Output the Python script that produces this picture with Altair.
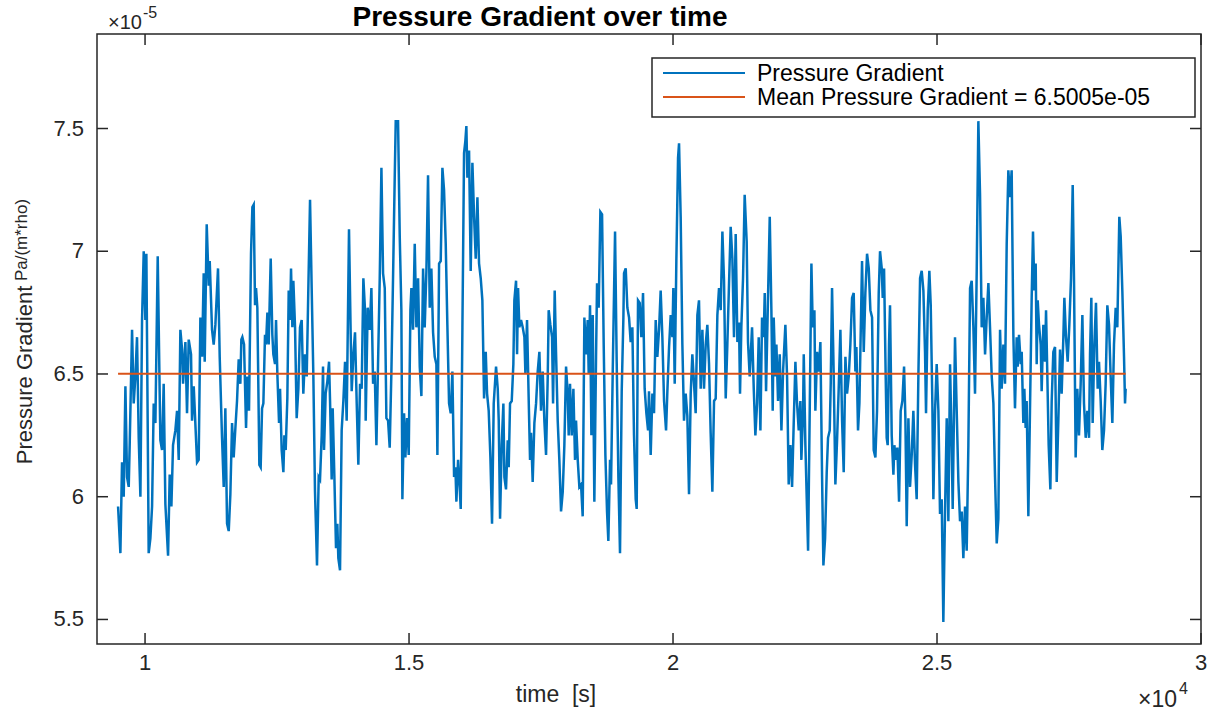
import altair as alt
import pandas as pd

# ---- data ----
# time in seconds, pressure gradient in units of 1e-5 Pa/(m*rho)
time_s = [
    9489, 9533, 9564, 9596, 9628, 9659, 9691, 9710, 9754, 9785, 9817, 9848, 9880, 9912, 9943, 9975, 10006, 10025, 10069, 10101,
    10133, 10164, 10196, 10240, 10290, 10322, 10353, 10385, 10436, 10467, 10499, 10530, 10574, 10606, 10638, 10669, 10701, 10720, 10764, 10795,
    10827, 10871, 10890, 10922, 10985, 11016, 11048, 11080, 11111, 11130, 11168, 11206, 11225, 11269, 11300, 11332, 11382, 11414, 11458, 11490,
    11521, 11553, 11585, 11616, 11648, 11679, 11711, 11742, 11774, 11805, 11824,
    11843, 11875, 11913, 11938, 11969, 12007, 12033, 12058, 12083, 12102, 12127, 12165, 12190, 12216, 12241, 12272, 12291, 12317, 12342, 12380,
    12411, 12430, 12462, 12481, 12506, 12538, 12557, 12588, 12620, 12639, 12664, 12695, 12721, 12746, 12765, 12790, 12809, 12841, 12872, 12904,
    12935, 12967, 12998, 13030, 13062, 13093, 13125, 13156, 13188, 13219, 13257, 13289, 13314, 13346, 13371, 13390, 13421, 13453, 13485, 13504,
    13535, 13554, 13586, 13617, 13642, 13661, 13693, 13724, 13756, 13788, 13819, 13863, 13895, 13914, 13946, 13977, 14009, 14040, 14072, 14103,
    14135, 14166, 14179, 14217,
    14256, 14287, 14319, 14350, 14382, 14413, 14445, 14477, 14508, 14540, 14571, 14603, 14634, 14666, 14697, 14729, 14748, 14792, 14824, 14855,
    14874, 14906, 14931, 14963, 14994, 15026, 15045, 15076, 15108, 15139, 15171, 15203, 15234, 15266, 15297, 15329, 15360, 15392, 15423, 15455,
    15487, 15518, 15537, 15569, 15600, 15632, 15663, 15695, 15726, 15758, 15790, 15821, 15853, 15878, 15897, 15929, 15960, 15979, 16011, 16042,
    16067, 16086, 16105, 16137, 16168, 16200, 16232, 16263, 16295, 16326, 16358, 16389, 16421, 16453, 16478, 16509, 16541, 16572, 16604,
    16648, 16680, 16699, 16724, 16755, 16787, 16806, 16837, 16869, 16888, 16913, 16945, 16976, 16995, 17027, 17046, 17065, 17090, 17121, 17153,
    17185, 17204, 17235, 17267, 17292, 17311, 17342, 17374, 17406, 17437, 17469, 17500, 17532, 17563, 17595, 17627, 17645, 17677, 17709, 17728,
    17759, 17784, 17816, 17847, 17879, 17911, 17942, 17974, 18005, 18024, 18049, 18081, 18113, 18144, 18163, 18195, 18226, 18258, 18289, 18321,
    18353, 18384, 18403, 18428, 18454, 18479, 18510, 18542, 18561, 18592, 18624, 18656, 18687, 18719, 18750, 18775, 18807, 18826, 18858, 18902,
    18933, 18965, 18996, 19028, 19060,
    19072, 19104, 19135, 19167, 19198, 19230, 19261, 19293, 19312, 19337, 19369, 19400, 19432, 19463, 19495, 19527, 19545, 19577, 19609, 19640,
    19672, 19703, 19735, 19766, 19798, 19830, 19868, 19893, 19925, 19956, 19988, 20006, 20032, 20063, 20095, 20114, 20145, 20177, 20208, 20240,
    20271, 20303, 20335, 20366, 20398, 20429, 20461, 20492, 20524, 20556, 20587, 20619, 20650, 20682, 20713, 20745, 20777, 20808, 20840, 20871,
    20903, 20935, 20966, 20998, 21029, 21061, 21092, 21124, 21155, 21187, 21219, 21250, 21269, 21294, 21326, 21357, 21395, 21420, 21452,
    21497, 21529, 21560, 21592, 21623, 21655, 21686, 21718, 21737, 21762, 21794, 21832, 21863, 21888, 21907, 21939, 21958, 21989, 22021, 22053,
    22084, 22128, 22160, 22191, 22223, 22255, 22286, 22318, 22349, 22381, 22412, 22431, 22463, 22476, 22507, 22558, 22589, 22621, 22646, 22678,
    22696, 22728, 22760, 22791, 22823, 22848, 22880, 22911, 22936, 22968, 22987, 23012, 23044, 23075, 23107, 23138, 23170, 23202, 23233, 23265,
    23296, 23328, 23359, 23391, 23422, 23454, 23473, 23504, 23530, 23580, 23612, 23643, 23675, 23707, 23738, 23770, 23801, 23833, 23864, 23896,
    23921, 23953, 23972, 23997, 24028, 24047, 24066, 24091, 24110, 24142, 24174, 24192, 24224, 24249, 24281, 24312, 24344, 24376, 24401, 24426,
    24458, 24489, 24521, 24552, 24584, 24615, 24647, 24679, 24710, 24742, 24773, 24792, 24824, 24855, 24881, 24912, 24931, 24963, 24994, 25026,
    25057, 25089, 25120, 25152, 25184, 25215, 25247, 25278, 25297, 25322, 25341, 25373, 25405, 25436, 25468, 25499, 25531, 25562, 25594, 25626,
    25657, 25689, 25720, 25752, 25783, 25815, 25846, 25878, 25910, 25941, 25973, 26004, 26036, 26068, 26099, 26131, 26162, 26194, 26225, 26257,
    26288, 26320, 26351, 26383, 26414, 26446, 26477, 26509, 26528, 26553, 26585, 26604, 26635, 26654, 26679, 26698, 26730, 26761, 26793, 26818,
    26844, 26869, 26888, 26907, 26932, 26964, 26982, 27014, 27046, 27065, 27090, 27115, 27147, 27172, 27203, 27235, 27267, 27298, 27330, 27361,
    27393, 27412, 27443, 27475, 27506, 27538, 27570, 27595, 27626, 27658, 27689, 27721, 27753, 27784, 27816, 27847, 27879, 27898, 27923, 27948,
    27980, 28011, 28043, 28068, 28100, 28131, 28163, 28194, 28226, 28258, 28289, 28321, 28352, 28384, 28415, 28453, 28479, 28510, 28542, 28561,
    28573,
]

gradient_e5 = [
    5.96, 5.77, 6.14, 6.00, 6.45, 6.08, 6.04, 6.22, 6.68, 6.38, 6.49, 6.65, 6.24, 6.00, 6.72, 7.00, 6.72, 6.99, 5.77, 5.83,
    5.96, 6.38, 6.30, 6.98, 6.23, 6.19, 6.46, 5.97, 5.76, 6.09, 5.96, 6.21, 6.27, 6.35, 6.15, 6.68, 6.60, 6.46, 6.63, 6.34,
    6.64, 6.58, 6.31, 6.45, 6.14, 6.15, 6.73, 6.57, 6.91, 6.55, 7.11, 6.86, 6.96, 6.68, 6.62, 6.70, 6.93, 6.57, 6.24, 6.04,
    6.36, 5.89, 5.86, 6.01, 6.30, 6.16, 6.28, 6.39, 6.56, 6.46, 6.64,
    6.65, 6.62, 6.28, 6.49, 6.35, 6.99, 7.18, 7.19, 6.78, 6.85, 6.77, 6.13, 6.12, 6.36, 6.38, 6.66, 6.62, 6.75, 6.62, 6.97,
    6.66, 6.58, 6.54, 6.72, 6.50, 6.30, 6.44, 6.19, 6.10, 6.25, 6.19, 6.40, 6.84, 6.72, 6.93, 6.69, 6.88, 6.69, 6.32, 6.44,
    6.69, 6.72, 6.42, 6.58, 6.49, 6.85, 7.21, 6.85, 6.49, 6.02, 5.72, 6.08, 6.07, 6.25, 6.53, 6.19, 6.42, 6.47, 6.55, 6.39,
    6.07, 6.36, 6.08, 5.79, 5.89, 5.75, 5.70, 6.27, 6.39, 6.55, 6.31, 7.09, 6.66, 6.43, 6.58, 6.67, 6.38, 6.13, 6.46, 6.44,
    6.89, 6.76, 6.31, 6.77,
    6.68, 6.85, 6.46, 6.51, 6.21, 6.54, 6.89, 7.34, 6.91, 6.85, 6.32, 6.31, 6.20, 6.51, 6.89, 7.30, 7.53, 7.53, 7.06, 6.76,
    5.99, 6.34, 6.16, 6.32, 6.17, 6.76, 6.85, 6.68, 7.03, 6.69, 6.89, 6.53, 6.41, 6.93, 6.69, 6.92, 7.31, 6.77, 6.93, 6.67,
    6.57, 6.54, 6.17, 6.95, 6.96, 7.34, 7.25, 7.03, 6.70, 6.38, 6.34, 6.51, 6.08, 6.12, 5.98, 6.15, 6.04, 5.95, 6.69, 7.40,
    7.45, 7.51, 7.30, 7.41, 6.92, 7.36, 7.14, 6.97, 7.22, 6.95, 6.89, 6.80, 6.40, 6.59, 6.42, 6.35, 6.16, 5.89, 6.38,
    6.53, 6.44, 6.31, 5.91, 6.21, 6.38, 6.08, 6.03, 6.23, 6.12, 6.38, 6.39, 6.54, 6.80, 6.88, 6.58, 6.85, 6.69, 6.72, 6.69,
    6.65, 6.50, 6.72, 6.39, 6.15, 6.26, 6.06, 6.30, 6.38, 6.51, 6.59, 6.35, 6.51, 6.31, 6.17, 6.49, 6.76, 6.70, 6.65, 6.38,
    6.84, 6.59, 6.31, 6.15, 5.94, 6.02, 6.21, 6.53, 6.42, 6.25, 6.46, 6.25, 6.44, 6.15, 6.31, 6.15, 6.04, 6.05, 5.92, 6.73,
    6.58, 6.72, 6.50, 6.78, 6.25, 6.74, 5.98, 6.57, 6.87, 6.77, 7.16, 7.15, 6.62, 6.17, 5.94, 5.82, 6.15, 6.05, 6.51, 7.08,
    6.55, 6.08, 5.77, 6.43, 6.73,
    6.91, 6.93, 6.77, 6.73, 6.63, 6.69, 6.25, 5.99, 5.95, 6.80, 6.79, 6.65, 6.83, 6.44, 6.34, 6.27, 6.43, 6.17, 6.42, 6.34,
    6.72, 6.57, 6.68, 6.84, 6.65, 6.39, 6.27, 6.43, 6.61, 6.74, 6.65, 6.85, 6.46, 6.96, 7.38, 7.44, 7.14, 6.62, 6.31, 6.42,
    6.33, 6.01, 6.42, 6.58, 6.46, 6.34, 6.74, 6.80, 6.44, 6.68, 6.44, 6.62, 6.70, 6.54, 6.26, 6.02, 6.39, 6.40, 6.74, 6.85,
    6.76, 7.08, 6.88, 6.40, 6.62, 6.87, 7.10, 6.97, 6.65, 7.07, 6.63, 6.71, 6.42, 6.69, 6.89, 7.23, 7.04, 6.63, 6.49,
    6.69, 6.44, 6.25, 6.38, 6.65, 6.27, 6.73, 6.65, 6.83, 6.43, 6.76, 7.14, 6.76, 6.35, 6.73, 6.49, 6.62, 6.39, 6.58, 6.27,
    6.51, 6.70, 6.49, 6.05, 6.21, 6.04, 6.30, 6.55, 6.38, 6.27, 6.39, 6.15, 6.35, 6.58, 6.21, 5.78, 6.35, 6.95, 6.69, 6.76,
    6.35, 6.59, 6.51, 6.63, 6.08, 5.72, 5.83, 6.10, 6.24, 6.27, 6.46, 6.85, 6.49, 6.05, 6.23, 6.44, 6.68, 6.31, 6.10, 6.57,
    6.42, 6.49, 6.62, 6.81, 6.83, 6.51, 6.61, 6.27, 6.38, 6.96, 6.59, 6.83, 6.99, 6.93, 6.76, 6.73, 6.19, 6.16, 6.35, 6.83,
    7.00, 6.93, 6.81, 6.93, 6.49, 6.24, 6.21, 6.62, 6.78, 6.25, 6.09, 6.21, 6.15, 6.20, 5.98, 6.35, 6.39, 6.53, 6.32, 5.88,
    6.32, 6.04, 6.17, 6.35, 6.13, 5.99, 6.49, 6.89, 6.92, 6.84, 6.59, 6.34, 6.76, 6.92, 6.78, 6.38, 5.99, 6.35, 6.54, 6.35,
    5.93, 5.99, 5.49, 5.94, 6.32, 5.90, 6.54, 6.21, 5.95, 6.35, 6.65, 6.35, 6.06, 5.90, 5.94, 5.75, 5.96, 5.78, 6.21, 6.85,
    6.88, 6.69, 6.42, 6.92, 7.53, 7.23, 6.69, 6.81, 6.58, 6.73, 6.87, 6.69, 6.49, 6.38, 6.08, 5.81, 5.91, 6.68, 6.44, 6.62,
    6.46, 7.03, 7.33, 7.22, 7.33, 6.66, 6.36, 6.65, 6.53, 6.66, 6.54, 6.59, 6.30, 6.44, 6.28, 6.39, 5.92, 6.35, 6.81, 7.08,
    6.84, 6.95, 6.54, 6.80, 6.70, 6.62, 6.43, 6.70, 6.55, 6.76, 6.49, 6.21, 6.03, 6.39, 6.59, 6.61, 6.06, 6.31, 6.60, 6.42,
    6.65, 6.81, 6.65, 6.55, 6.70, 6.89, 7.27, 6.88, 6.16, 6.44, 6.25, 6.46, 6.74, 6.38, 6.24, 6.35, 6.24, 6.58, 6.81, 6.30,
    6.62, 6.79, 6.44, 6.55, 6.39, 6.19, 6.27, 6.46, 6.78, 6.70, 6.49, 6.30, 6.62, 6.77, 6.69, 7.14, 7.06, 6.84, 6.57, 6.38,
    6.44,
]

mean_gradient_e5 = 6.5005
series_names = ["Pressure Gradient", "Mean Pressure Gradient = 6.5005e-05"]
x_ticks = [10000, 15000, 20000, 25000, 30000]
x_tick_labels = ["1", "1.5", "2", "2.5", "3"]          # shown in units of 1e4 s
y_ticks = [5.5, 6.0, 6.5, 7.0, 7.5]
y_tick_labels = ["5.5", "6", "6.5", "7", "7.5"]        # shown in units of 1e-5
x_domain = [9090, 30000]
y_domain = [5.4, 7.885]
chart_title = "Pressure Gradient over time"
x_title = "time\u00a0\u00a0[s]"
y_title = "Pressure Gradient"
y_unit = "Pa/(m*rho)"

# ---- styling ----
W, H = 1104, 610
FONT = "Liberation Sans"
AX = "#262626"
BLUE = "#0072BD"
ORANGE = "#D95319"
TICK_LEN = 11

n = min(len(time_s), len(gradient_e5))
df = pd.DataFrame({"t": time_s[:n], "v": gradient_e5[:n]})
mean_df = pd.DataFrame({"t": [time_s[0]], "t2": [time_s[n - 1]], "v": [mean_gradient_e5]})
xt_df = pd.DataFrame({"t": x_ticks, "label": x_tick_labels})
yt_df = pd.DataFrame({"v": y_ticks, "label": y_tick_labels})
one = pd.DataFrame({"a": [0]})

xs = alt.Scale(domain=x_domain, nice=False, zero=False)
ys = alt.Scale(domain=y_domain, nice=False, zero=False)
X = lambda f: alt.X(f, scale=xs, axis=None)
Y = lambda f: alt.Y(f, scale=ys, axis=None)

line = alt.Chart(df).mark_line(color=BLUE, strokeWidth=2.5).encode(x=X("t:Q"), y=Y("v:Q"))

mean_rule = alt.Chart(mean_df).mark_rule(color=ORANGE, strokeWidth=2).encode(
    x=X("t:Q"), x2="t2:Q", y=Y("v:Q"))

# inward ticks on all four sides (MATLAB box style)
tick_style = dict(color=AX, strokeWidth=1.5)
ticks_bottom = alt.Chart(xt_df).mark_rule(**tick_style).encode(
    x=X("t:Q"), y=alt.value(H), y2=alt.value(H - TICK_LEN))
ticks_top = alt.Chart(xt_df).mark_rule(**tick_style).encode(
    x=X("t:Q"), y=alt.value(0), y2=alt.value(TICK_LEN))
ticks_left = alt.Chart(yt_df).mark_rule(**tick_style).encode(
    y=Y("v:Q"), x=alt.value(0), x2=alt.value(TICK_LEN))
ticks_right = alt.Chart(yt_df).mark_rule(**tick_style).encode(
    y=Y("v:Q"), x=alt.value(W), x2=alt.value(W - TICK_LEN))

# tick labels, placed through the scales
x_labels = alt.Chart(xt_df).mark_text(
    font=FONT, fontSize=22, color=AX, align="center", baseline="middle").encode(
    x=X("t:Q"), y=alt.value(H + 19), text="label:N")
y_labels = alt.Chart(yt_df).mark_text(
    font=FONT, fontSize=22, color=AX, align="right", baseline="middle").encode(
    y=Y("v:Q"), x=alt.value(-13), text="label:N")

# ---- legend box (MATLAB style) ----
LX0, LX1, LY0, LY1 = 555, 1098, 24, 83
legend_box = alt.Chart(one).mark_rect(fill="white", stroke=AX, strokeWidth=1.5).encode(
    x=alt.value(LX0), x2=alt.value(LX1), y=alt.value(LY0), y2=alt.value(LY1))
leg_line1 = alt.Chart(one).mark_rule(color=BLUE, strokeWidth=2).encode(
    x=alt.value(566), x2=alt.value(648), y=alt.value(39))
leg_line2 = alt.Chart(one).mark_rule(color=ORANGE, strokeWidth=2).encode(
    x=alt.value(566), x2=alt.value(648), y=alt.value(63))
leg_txt_style = dict(font=FONT, fontSize=23, color="black", align="left", baseline="middle")
leg_text1 = alt.Chart(one).mark_text(**leg_txt_style).encode(
    x=alt.value(660), y=alt.value(40), text=alt.value(series_names[0]))
leg_text2 = alt.Chart(one).mark_text(**leg_txt_style).encode(
    x=alt.value(660), y=alt.value(64), text=alt.value(series_names[1]))

# ---- titles, exponent annotations ----
def txt(x, y, s, size, color=AX, **kw):
    style = dict(font=FONT, fontSize=size, color=color, align="left", baseline="alphabetic")
    style.update(kw)
    return alt.Chart(one).mark_text(**style).encode(
        x=alt.value(x), y=alt.value(y), text=alt.value(s))

title_mark = txt(443, -8, chart_title, 28, color="black", align="center", fontWeight="bold")
x_title_mark = txt(459, 668, x_title, 23, align="center")
exp_y_base = txt(11, -5, "\u00d710", 20)
exp_y_sup = txt(46, -16, "-5", 16)
exp_x_base = txt(1041, 673, "\u00d710", 23)
exp_x_sup = txt(1082, 660, "4", 16)
ylab_main = txt(-72, 341, y_title, 22, align="center", baseline="middle", angle=270)
ylab_unit = txt(-75, 206, y_unit, 17, align="center", baseline="middle", angle=270)

chart = alt.layer(
    line, mean_rule,
    ticks_bottom, ticks_top, ticks_left, ticks_right,
    x_labels, y_labels,
    legend_box, leg_line1, leg_line2, leg_text1, leg_text2,
    title_mark, x_title_mark,
    exp_y_base, exp_y_sup, exp_x_base, exp_x_sup, ylab_main, ylab_unit,
).properties(
    width=W, height=H,
    padding={"left": 97, "top": 34, "right": 1216 - 97 - W, "bottom": 712 - 34 - H},
    autosize=alt.AutoSizeParams(type="none"),
    background="white",
).configure_view(stroke=AX, strokeWidth=1.5)

chart.save("out.html", embed_options={"renderer": "svg", "actions": False})
